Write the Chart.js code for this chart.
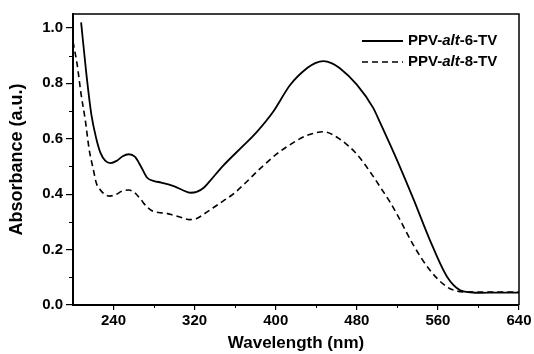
<!DOCTYPE html>
<html>
<head>
<meta charset="utf-8">
<script src="https://cdn.jsdelivr.net/npm/chart.js@4"></script>
<style>
  html, body { margin: 0; padding: 0; background: #fff; }
  #wrap { width: 534px; height: 354px; }
</style>
</head>
<body>
<div id="wrap"><canvas id="absChart" width="534" height="354"></canvas></div>
<script>
// PPV-alt-6-TV (solid)
const wl6 = [208, 213, 218, 223, 227, 232, 237, 243, 249, 255, 261, 267, 273, 280, 287, 294, 300, 308, 316, 322, 329, 335, 348, 368, 381, 398, 414, 431, 439, 447, 455, 463, 480, 496, 503, 513, 520, 536, 552, 569, 582, 592, 602, 620, 640];
const abs6 = [1.02, 0.84, 0.69, 0.60, 0.55, 0.52, 0.512, 0.52, 0.537, 0.544, 0.535, 0.50, 0.46, 0.447, 0.442, 0.435, 0.428, 0.415, 0.405, 0.408, 0.423, 0.447, 0.502, 0.575, 0.623, 0.70, 0.793, 0.855, 0.873, 0.88, 0.873, 0.855, 0.795, 0.712, 0.658, 0.578, 0.52, 0.381, 0.235, 0.102, 0.053, 0.046, 0.044, 0.045, 0.045];

// PPV-alt-8-TV (dashed)
const wl8 = [200, 204, 208, 212, 216, 220, 223, 227, 231, 236, 242, 248, 255, 261, 267, 273, 279, 286, 292, 299, 307, 315, 322, 330, 338, 348, 358, 368, 384, 401, 417, 431, 447, 463, 480, 496, 505, 513, 520, 536, 552, 569, 578, 590, 610, 640];
const abs8 = [0.95, 0.87, 0.76, 0.67, 0.56, 0.49, 0.44, 0.415, 0.40, 0.393, 0.398, 0.41, 0.415, 0.405, 0.38, 0.354, 0.338, 0.333, 0.331, 0.324, 0.316, 0.308, 0.312, 0.33, 0.35, 0.375, 0.40, 0.433, 0.49, 0.545, 0.585, 0.612, 0.625, 0.599, 0.544, 0.465, 0.415, 0.37, 0.325, 0.215, 0.126, 0.065, 0.051, 0.047, 0.047, 0.047];

const xTicks = [240, 320, 400, 480, 560, 640];
const xMinor = [280, 360, 440, 520, 600];
const yTicks = [0.0, 0.2, 0.4, 0.6, 0.8, 1.0];
const yMinor = [0.1, 0.3, 0.5, 0.7, 0.9];

const FONT = "'Liberation Sans', Arial, Helvetica, sans-serif";
Chart.defaults.font.family = FONT;
Chart.defaults.color = '#000';

const toPoints = (xs, ys) => xs.map((x, i) => ({ x: x, y: ys[i] }));

// minor ticks + closing box on top/right
const frame = {
    id: 'frame',
    afterDraw(chart) {
        const { ctx, chartArea: a, scales: { x, y } } = chart;
        ctx.save();
        ctx.strokeStyle = '#000';
        ctx.lineWidth = 1.5;
        ctx.beginPath();
        ctx.moveTo(a.left, a.top);
        ctx.lineTo(a.right, a.top);
        ctx.lineTo(a.right, a.bottom);
        ctx.stroke();

        ctx.lineWidth = 1;
        ctx.beginPath();
        xMinor.forEach(v => {
            const px = Math.round(x.getPixelForValue(v)) + 0.5;
            ctx.moveTo(px, a.bottom);
            ctx.lineTo(px, a.bottom + 3);
        });
        yMinor.forEach(v => {
            const py = Math.round(y.getPixelForValue(v)) + 0.5;
            ctx.moveTo(a.left, py);
            ctx.lineTo(a.left - 4, py);
        });
        ctx.stroke();
        ctx.restore();
    }
};

// legend with italic "alt"
const legendBox = {
    id: 'legendBox',
    afterDraw(chart) {
        const { ctx, chartArea: a } = chart;
        const x0 = a.right - 157;
        ctx.save();
        chart.data.datasets.forEach((ds, i) => {
            const yy = a.top + 27 + i * 21;
            ctx.strokeStyle = ds.borderColor;
            ctx.lineWidth = ds.borderWidth;
            ctx.setLineDash(ds.borderDash || []);
            ctx.beginPath();
            ctx.moveTo(x0, yy);
            ctx.lineTo(x0 + 41, yy);
            ctx.stroke();
            ctx.setLineDash([]);

            const m = ds.label.match(/^(.*?-)(alt)(-.*)$/);
            const parts = m ? [[m[1], false], [m[2], true], [m[3], false]] : [[ds.label, false]];
            let tx = x0 + 46;
            ctx.fillStyle = '#000';
            ctx.textBaseline = 'middle';
            parts.forEach(([s, it]) => {
                ctx.font = (it ? 'italic ' : '') + 'bold 15px ' + FONT;
                ctx.fillText(s, tx, yy);
                tx += ctx.measureText(s).width;
            });
        });
        ctx.restore();
    }
};

new Chart(document.getElementById('absChart').getContext('2d'), {
    type: 'scatter',
    data: {
        datasets: [
            {
                label: 'PPV-alt-6-TV',
                data: toPoints(wl6, abs6),
                showLine: true,
                borderColor: '#000',
                borderWidth: 1.8,
                pointRadius: 0,
                cubicInterpolationMode: 'monotone'
            },
            {
                label: 'PPV-alt-8-TV',
                data: toPoints(wl8, abs8),
                showLine: true,
                borderColor: '#000',
                borderWidth: 1.6,
                borderDash: [6, 4],
                pointRadius: 0,
                cubicInterpolationMode: 'monotone'
            }
        ]
    },
    options: {
        responsive: false,
        animation: false,
        layout: { padding: { top: 14, right: 15, bottom: 0, left: 0 } },
        plugins: {
            legend: { display: false },
            tooltip: { enabled: false }
        },
        scales: {
            x: {
                type: 'linear',
                min: 200,
                max: 640,
                afterBuildTicks: s => { s.ticks = xTicks.map(v => ({ value: v })); },
                afterFit: s => { s.height = 49; },
                ticks: {
                    font: { size: 15, weight: 'bold' },
                    padding: 2,
                    maxRotation: 0,
                    autoSkip: false
                },
                grid: { drawOnChartArea: false, drawTicks: true, tickLength: 5, color: '#000', lineWidth: 1.2 },
                border: { display: true, color: '#000', width: 2 },
                title: {
                    display: true,
                    text: 'Wavelength (nm)',
                    font: { size: 17, weight: 'bold' },
                    padding: { top: 0, bottom: 0 }
                }
            },
            y: {
                min: 0,
                max: 1.05,
                afterBuildTicks: s => { s.ticks = yTicks.map(v => ({ value: v })); },
                afterFit: s => { s.width = 73; },
                ticks: {
                    font: { size: 15, weight: 'bold' },
                    padding: 3,
                    callback: v => v.toFixed(1)
                },
                grid: { drawOnChartArea: false, drawTicks: true, tickLength: 7, color: '#000', lineWidth: 1.2 },
                border: { display: true, color: '#000', width: 2 },
                title: {
                    display: true,
                    text: 'Absorbance (a.u.)',
                    font: { size: 18, weight: 'bold' },
                    padding: { top: 6, bottom: 0 }
                }
            }
        }
    },
    plugins: [frame, legendBox]
});
</script>
</body>
</html>
